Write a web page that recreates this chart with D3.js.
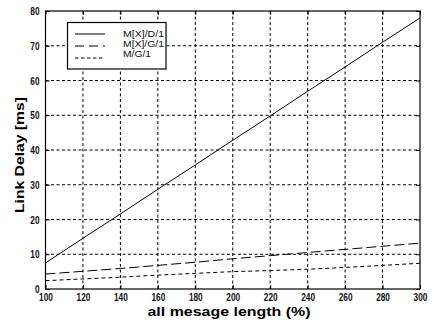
<!DOCTYPE html>
<html><head><meta charset="utf-8">
<script src="https://cdn.jsdelivr.net/npm/d3@7"></script>
<style>body{margin:0;background:#fff}svg{display:block}</style>
</head><body>
<svg id="c" width="434" height="325"></svg>
<script>
const xLen = [100,120,140,160,180,200,220,240,260,280,300];
const mxd1 = [7.5,14.6,21.6,28.7,35.7,42.8,49.8,56.9,63.9,71.0,78.0];
const mxg1 = [4.3,5.1,5.9,6.8,7.7,8.7,9.6,10.5,11.4,12.3,13.2];
const mg1  = [2.4,2.9,3.4,4.0,4.5,5.0,5.3,5.7,6.2,6.8,7.4];
const xTicks = [100,120,140,160,180,200,220,240,260,280,300];
const yTicks = [0,10,20,30,40,50,60,70,80];
const seriesNames = ["M[X]/D/1","M[X]/G/1","M/G/1"];

const svg = d3.select("#c");
const L=45.5,R=420,T=11,B=289;
const x = d3.scaleLinear().domain([100,300]).range([L,R]);
const y = d3.scaleLinear().domain([0,80]).range([B,T]);
const font = "'Liberation Sans', Arial, sans-serif";

// grid
const g = svg.append("g").attr("stroke","#000").attr("stroke-width",1).attr("stroke-dasharray","3,2.5");
xTicks.slice(1,-1).forEach(v=>g.append("line").attr("x1",x(v)).attr("x2",x(v)).attr("y1",T).attr("y2",B));
yTicks.slice(1,-1).forEach(v=>g.append("line").attr("x1",L).attr("x2",R).attr("y1",y(v)).attr("y2",y(v)));

// axes with inner ticks
const ax = svg.append("g").attr("transform",`translate(0,${B})`).call(d3.axisBottom(x).tickValues(xTicks).tickSize(-4).tickPadding(4.5).tickFormat(d3.format("d")));
const axT = svg.append("g").attr("transform",`translate(0,${T})`).call(d3.axisTop(x).tickValues(xTicks).tickSize(-4).tickFormat(""));
const ay = svg.append("g").attr("transform",`translate(${L},0)`).call(d3.axisLeft(y).tickValues(yTicks).tickSize(-4).tickPadding(6).tickFormat(d3.format("d")));
const ayR = svg.append("g").attr("transform",`translate(${R},0)`).call(d3.axisRight(y).tickValues(yTicks).tickSize(-4).tickFormat(""));
[ax,axT,ay,ayR].forEach(a=>{a.select(".domain").remove();a.selectAll("line").attr("stroke","#000");});
[ax,ay].forEach(a=>a.selectAll("text").attr("font-family",font).attr("font-size",10).attr("font-weight","bold").attr("fill","#111")
  .attr("textLength",function(d){return String(d).length*4.6;}).attr("lengthAdjust","spacingAndGlyphs"));
ay.selectAll("text").attr("dy","0.35em");

svg.append("rect").attr("x",L).attr("y",T).attr("width",R-L).attr("height",B-T).attr("fill","none").attr("stroke","#000").attr("stroke-width",1.2);

// lines
const line = d3.line().x((d,i)=>x(xLen[i])).y(d=>y(d));
const styles = [null,"10,4","4,3"];
[mxd1,mxg1,mg1].forEach((s,k)=>{
  svg.append("path").datum(s).attr("d",line).attr("fill","none").attr("stroke","#000").attr("stroke-width",1)
    .attr("stroke-dasharray",styles[k]);
});

// legend
svg.append("rect").attr("x",67.5).attr("y",22.5).attr("width",98.5).attr("height",46.5).attr("fill","#fff").attr("stroke","#000").attr("stroke-width",1.2);
const ly=[34,46,58], ty=[34,44,54];
seriesNames.forEach((n,k)=>{
  svg.append("line").attr("x1",75).attr("x2",105).attr("y1",ly[k]).attr("y2",ly[k]).attr("stroke","#000").attr("stroke-width",1)
    .attr("stroke-dasharray",k===1?"9,5":(k===2?"3.5,2.5":null));
  svg.append("text").attr("x",123).attr("y",ty[k]).attr("dy","0.35em").attr("font-family",font).attr("font-size",9)
    .attr("textLength",k===2?28:41).attr("lengthAdjust","spacingAndGlyphs").attr("fill","#111").text(n);
});

// titles
svg.append("text").attr("x",229).attr("y",316).attr("text-anchor","middle").attr("font-family",font).attr("font-weight","bold")
  .attr("font-size",12).attr("textLength",163).attr("lengthAdjust","spacingAndGlyphs").text("all mesage length (%)");
svg.append("text").attr("transform","translate(24,155) rotate(-90)").attr("text-anchor","middle").attr("font-family",font).attr("font-weight","bold")
  .attr("font-size",13).attr("textLength",116).attr("lengthAdjust","spacingAndGlyphs").text("Link Delay [ms]");
</script>
</body></html>
